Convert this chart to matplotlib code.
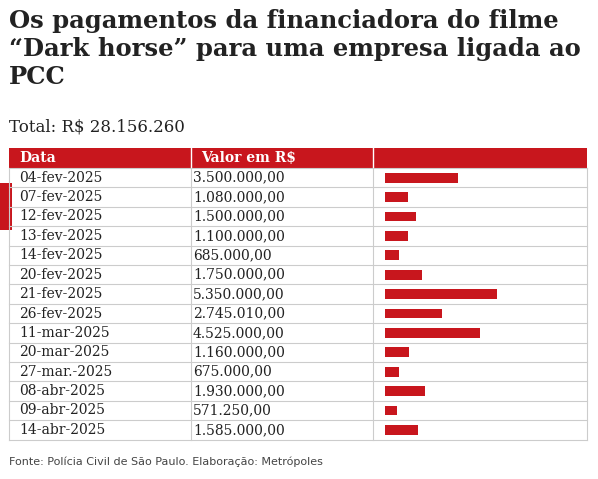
import matplotlib
matplotlib.use("Agg")
import matplotlib.pyplot as plt
from matplotlib.patches import Rectangle

RED = "#C8161D"
GRID = "#CCCCCC"
TXT = "#222222"

dates = ["04-fev-2025", "07-fev-2025", "12-fev-2025", "13-fev-2025", "14-fev-2025",
         "20-fev-2025", "21-fev-2025", "26-fev-2025", "11-mar-2025", "20-mar-2025",
         "27-mar.-2025", "08-abr-2025", "09-abr-2025", "14-abr-2025"]
labels = ["3.500.000,00", "1.080.000,00", "1.500.000,00", "1.100.000,00", "685.000,00",
          "1.750.000,00", "5.350.000,00", "2.745.010,00", "4.525.000,00", "1.160.000,00",
          "675.000,00", "1.930.000,00", "571.250,00", "1.585.000,00"]
values = [3500000, 1080000, 1500000, 1100000, 685000, 1750000, 5350000, 2745010,
          4525000, 1160000, 675000, 1930000, 571250, 1585000]

W, H = 598, 479
fig = plt.figure(figsize=(W / 100, H / 100), dpi=100)
ax = fig.add_axes([0, 0, 1, 1])
ax.set_xlim(0, W)
ax.set_ylim(H, 0)
ax.axis("off")

serif = "DejaVu Serif"
for i, line in enumerate(["Os pagamentos da financiadora do filme",
                          "\u201cDark horse\u201d para uma empresa ligada ao",
                          "PCC"]):
    ax.text(9, 21 + i * 28, line, fontsize=17.5, fontweight="bold", family=serif,
            color=TXT, va="center")
ax.text(9, 127, "Total: R$ 28.156.260", fontsize=12, family=serif, color=TXT, va="center")

# table
x0, x1, x2, x3 = 9, 191, 373, 587
top, hh, rh = 148, 20, 19.4
n = len(dates)
ax.add_patch(Rectangle((0, 183), 12, 47, color=RED, lw=0))
ax.add_patch(Rectangle((x0, top), x3 - x0, hh, color=RED, lw=0))
for xc in (x1, x2):
    ax.plot([xc, xc], [top, top + hh], color="white", lw=1)
ax.text(x0 + 10, top + hh / 2, "Data", color="white", fontweight="bold",
        family=serif, fontsize=10, va="center")
ax.text(x1 + 10, top + hh / 2, "Valor em R$", color="white", fontweight="bold",
        family=serif, fontsize=10, va="center")
bottom = top + hh + n * rh
for i in range(n + 1):
    y = top + hh + i * rh
    ax.plot([x0, x3], [y, y], color=GRID, lw=0.8)
for xc in (x0, x1, x2, x3):
    ax.plot([xc, xc], [top + hh, bottom], color=GRID, lw=0.8)
for i in range(n):
    yc = top + hh + (i + 0.5) * rh
    ax.text(x0 + 10, yc, dates[i], family=serif, fontsize=10, color=TXT, va="center")
    ax.text(x1 + 2, yc, labels[i], family=serif, fontsize=10, color=TXT, va="center")

# bars in their own axes
bx = fig.add_axes([385 / W, 1 - bottom / H, (x3 - 385) / W, n * rh / H])
bx.barh(range(n), values, height=0.5, color=RED)
bx.set_ylim(n - 0.5, -0.5)
bx.set_xlim(0, 9.67e6)
bx.axis("off")

ax.text(9, 462, "Fonte: Pol\u00edcia Civil de S\u00e3o Paulo. Elabora\u00e7\u00e3o: Metr\u00f3poles",
        fontsize=8, color="#444444", va="center")

fig.savefig("out.png", dpi=100)
